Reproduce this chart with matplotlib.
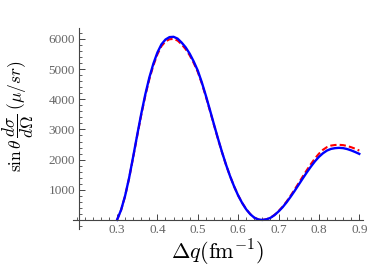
import matplotlib
matplotlib.use("Agg")
import matplotlib.pyplot as plt
from matplotlib.ticker import MultipleLocator

plt.rcParams['mathtext.fontset'] = 'cm'
plt.rcParams['font.family'] = ['Liberation Serif', 'DejaVu Serif']

# momentum transfer grid (fm^-1)
dq = [0.30, 0.31, 0.32, 0.33, 0.34, 0.35, 0.36, 0.37, 0.38, 0.39,
      0.40, 0.41, 0.42, 0.43, 0.44, 0.45, 0.46, 0.47, 0.48, 0.49,
      0.50, 0.51, 0.52, 0.53, 0.54, 0.55, 0.56, 0.57, 0.58, 0.59,
      0.60, 0.61, 0.62, 0.63, 0.64, 0.65, 0.66, 0.67, 0.68, 0.69,
      0.70, 0.71, 0.72, 0.73, 0.74, 0.75, 0.76, 0.77, 0.78, 0.79,
      0.80, 0.81, 0.82, 0.83, 0.84, 0.85, 0.86, 0.87, 0.88, 0.89,
      0.90]

# solid blue curve
blue = [0, 330, 800, 1400, 2100, 2820, 3520, 4160, 4720, 5180,
        5550, 5820, 5980, 6060, 6070, 6010, 5880, 5720, 5510, 5250,
        4950, 4560, 4120, 3650, 3170, 2700, 2250, 1830, 1450, 1110,
        810, 560, 350, 190, 75, 15, 0, 20, 70, 160,
        280, 420, 585, 770, 965, 1170, 1375, 1575, 1765, 1940,
        2090, 2210, 2300, 2355, 2380, 2390, 2380, 2350, 2305, 2250,
        2190]

# dashed red curve
red = [0, 325, 790, 1385, 2075, 2790, 3480, 4115, 4665, 5120,
       5490, 5760, 5915, 5990, 6000, 5945, 5820, 5660, 5455, 5200,
       4905, 4525, 4090, 3625, 3150, 2685, 2240, 1825, 1450, 1110,
       815, 565, 355, 195, 78, 16, 0, 21, 73, 167,
       292, 438, 610, 805, 1010, 1225, 1440, 1650, 1850, 2035,
       2195, 2325, 2415, 2465, 2485, 2490, 2480, 2450, 2410, 2360,
       2300]

fig = plt.figure(figsize=(3.81, 2.73), dpi=100)
ax = fig.add_axes([0.1906, 0.1612, 0.763, 0.736])

ax.plot(dq, red, color='red', lw=1.5, ls=(0, (3, 1.5)))
ax.plot(dq, blue, color='blue', lw=1.7)

ax.set_xlim(0.19, 0.91)
ax.set_ylim(-300, 6360)

axis_col = '#444444'
ax.spines['top'].set_visible(False)
ax.spines['right'].set_visible(False)
ax.spines['left'].set_position(('data', 0.206))
ax.spines['bottom'].set_position(('data', 0))
for s in ('left', 'bottom'):
    ax.spines[s].set_color(axis_col)
    ax.spines[s].set_linewidth(0.8)

ax.set_xticks([0.3, 0.4, 0.5, 0.6, 0.7, 0.8, 0.9])
ax.set_xticklabels(['0.3', '0.4', '0.5', '0.6', '0.7', '0.8', '0.9'])
ax.set_yticks([1000, 2000, 3000, 4000, 5000, 6000])
ax.xaxis.set_minor_locator(MultipleLocator(0.02))
ax.yaxis.set_minor_locator(MultipleLocator(200))
ax.tick_params(which='major', direction='in', length=4, width=0.7,
               color=axis_col, labelcolor='#666666', labelsize=9.5, pad=3)
ax.tick_params(which='minor', direction='in', length=2, width=0.6,
               color=axis_col)

ax.set_xlabel(r'$\Delta q(\mathrm{fm}^{-1})$', fontsize=16)
ax.xaxis.set_label_coords(0.5, -0.045)
ax.set_ylabel(r'$\sin\theta\,\dfrac{d\sigma}{d\Omega}\;(\mu/sr)$', fontsize=12.5)
ax.yaxis.set_label_coords(-0.125, 0.56)

fig.savefig('out.png', dpi=100)
